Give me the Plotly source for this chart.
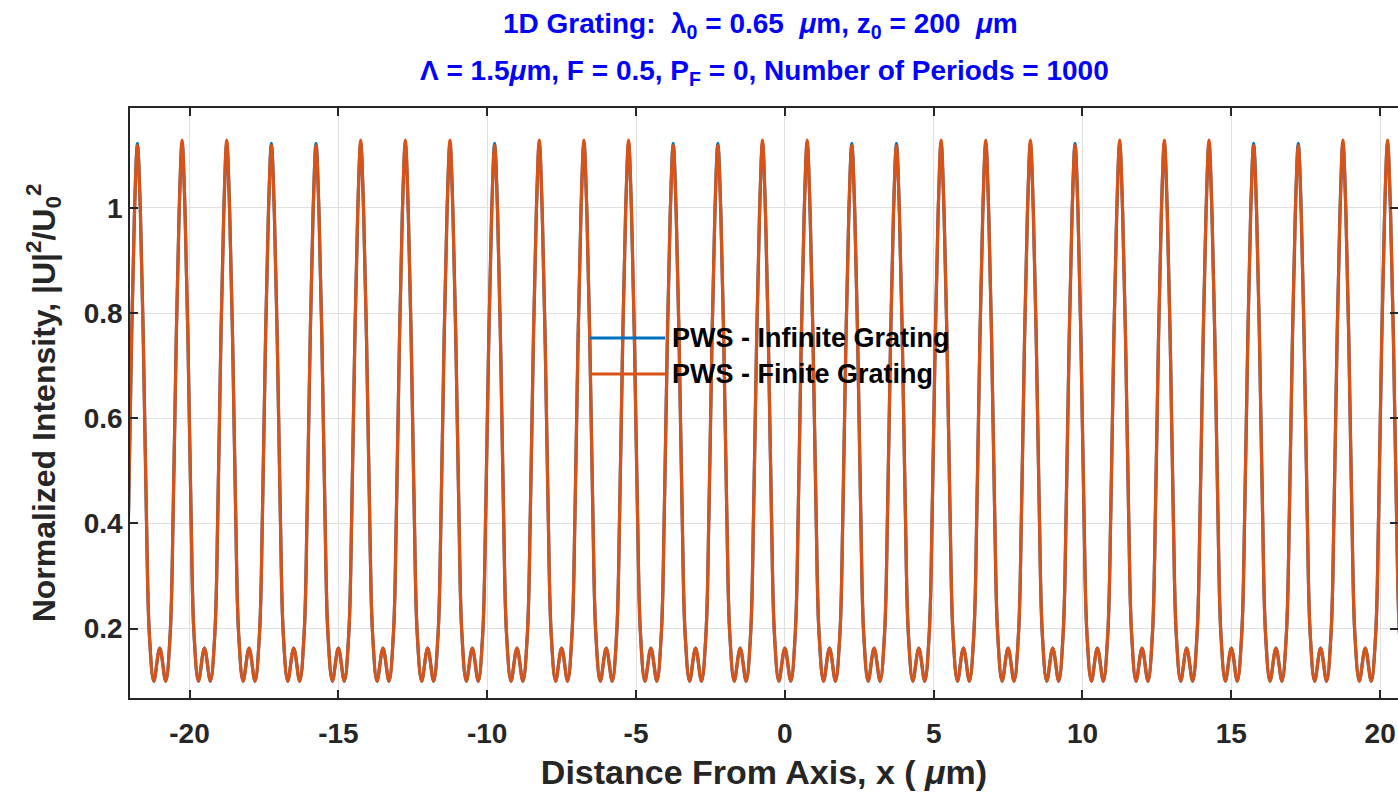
import plotly.graph_objects as go

# ---------------- data ----------------
PEAK_X = [-21.75, -20.25, -18.75, -17.25, -15.75, -14.25, -12.75, -11.25, -9.75, -8.25,
          -6.75, -5.25, -3.75, -2.25, -0.75, 0.75, 2.25, 3.75, 5.25, 6.75,
          8.25, 9.75, 11.25, 12.75, 14.25, 15.75, 17.25, 18.75, 20.25]
FINITE_PEAK_Y = [1.119, 1.129, 1.129, 1.119, 1.119, 1.129, 1.129, 1.129, 1.119, 1.129,
                 1.129, 1.129, 1.119, 1.119, 1.129, 1.129, 1.119, 1.119, 1.129, 1.129,
                 1.129, 1.119, 1.129, 1.129, 1.129, 1.119, 1.119, 1.129, 1.129]
INFINITE_PEAK_Y = [1.123, 1.123, 1.123, 1.123, 1.123, 1.123, 1.123, 1.123, 1.123, 1.123,
                   1.123, 1.123, 1.123, 1.123, 1.123, 1.123, 1.123, 1.123, 1.123, 1.123,
                   1.123, 1.123, 1.123, 1.123, 1.123, 1.123, 1.123, 1.123, 1.123]
# intensity on the flank of each fringe, by distance from the peak (um)
FLANK_OFFSET = [0.10, 0.20, 0.30, 0.40, 0.55]
FLANK_Y = [0.99, 0.74, 0.42, 0.19, 0.10]
# small secondary maximum halfway between two fringes
TROUGH_OFFSET = 0.75
TROUGH_BUMP_Y = 0.163

X_TICKS = [-20, -15, -10, -5, 0, 5, 10, 15, 20]
Y_TICKS = [0.2, 0.4, 0.6, 0.8, 1.0]
Y_TICK_TEXT = ["0.2", "0.4", "0.6", "0.8", "1"]
SERIES_NAMES = ["PWS - Infinite Grating", "PWS - Finite Grating"]
SERIES_COLORS = ["#0072BD", "#D95319"]


def build_curve(peaks_y):
    xs, ys = [], []
    for i, (p, h) in enumerate(zip(PEAK_X, peaks_y)):
        if i == 0:
            xs.append(p - TROUGH_OFFSET)
            ys.append(TROUGH_BUMP_Y)
        for off, v in zip(reversed(FLANK_OFFSET), reversed(FLANK_Y)):
            xs.append(p - off)
            ys.append(v)
        xs.append(p)
        ys.append(h)
        for off, v in zip(FLANK_OFFSET, FLANK_Y):
            xs.append(p + off)
            ys.append(v)
        xs.append(p + TROUGH_OFFSET)
        ys.append(TROUGH_BUMP_Y)
    return xs, ys


FONT = "Liberation Sans, Arial, Helvetica, sans-serif"
DARK = "#262626"

fig = go.Figure()
for name, color, peaks in zip(SERIES_NAMES, SERIES_COLORS, [INFINITE_PEAK_Y, FINITE_PEAK_Y]):
    xs, ys = build_curve(peaks)
    fig.add_trace(go.Scatter(x=xs, y=ys, mode="lines", name=name, showlegend=False,
                             line=dict(color=color, width=3.2, shape="spline", smoothing=1)))

L, R, T, B = 130, 0, 108, 98
W, H = 1398, 796
pw, ph = W - L - R, H - T - B


def px_x(x):
    return (x - L) / pw


def px_y(y):
    return (H - B - y) / ph


# custom legend (no box, transparent)
for name, color, ly in zip(SERIES_NAMES, SERIES_COLORS, [338, 374]):
    fig.add_shape(type="line", xref="paper", yref="paper",
                  x0=px_x(590), x1=px_x(665), y0=px_y(ly), y1=px_y(ly),
                  line=dict(color=color, width=3.2))
    fig.add_annotation(xref="paper", yref="paper", x=px_x(670), y=px_y(ly),
                       xanchor="left", yanchor="middle", showarrow=False,
                       text="<b>%s</b>" % name, font=dict(family=FONT, size=27, color="#000000"))

# two-line title
fig.add_annotation(xref="paper", yref="paper", x=0.5, y=px_y(25), xanchor="center", yanchor="middle",
                   showarrow=False, xshift=-4,
                   text="<b>1D Grating:  λ<sub>0</sub> = 0.65  <i>μ</i>m, z<sub>0</sub> = 200  <i>μ</i>m</b>",
                   font=dict(family=FONT, size=28, color="#0000FF"))
fig.add_annotation(xref="paper", yref="paper", x=0.5, y=px_y(72), xanchor="center", yanchor="middle",
                   showarrow=False,
                   text="<b>Λ = 1.5<i>μ</i>m, F = 0.5, P<sub>F</sub> = 0, Number of Periods = 1000</b>",
                   font=dict(family=FONT, size=28, color="#0000FF"))

axis_common = dict(showline=True, linecolor=DARK, linewidth=1.5, mirror="ticks",
                   ticks="inside", ticklen=8, tickwidth=1.5, tickcolor=DARK,
                   showgrid=True, gridcolor="#E0E0E0", gridwidth=1, zeroline=False,
                   tickfont=dict(family=FONT, size=28, color=DARK))

fig.update_layout(
    width=W, height=H,
    margin=dict(l=L, r=R, t=T, b=B, pad=0),
    paper_bgcolor="white", plot_bgcolor="white",
    xaxis=dict(range=[-22, 20.6], tickvals=X_TICKS, ticktext=["<b>%d</b>" % v for v in X_TICKS],
               ticklabelstandoff=10,
               title=dict(text="<b>Distance From Axis, x ( <i>μ</i>m)</b>", standoff=12,
                          font=dict(family=FONT, size=34, color=DARK)),
               automargin=False, **axis_common),
    yaxis=dict(range=[0.068, 1.19], tickvals=Y_TICKS, ticktext=["<b>%s</b>" % t for t in Y_TICK_TEXT],
               title=dict(text="<b>Normalized Intensity, |U|<sup>2</sup>/U<sub>0</sub><sup>2</sup></b>",
                          standoff=19, font=dict(family=FONT, size=32, color=DARK)),
               automargin=False, **axis_common),
)

fig.write_html("out.html")
